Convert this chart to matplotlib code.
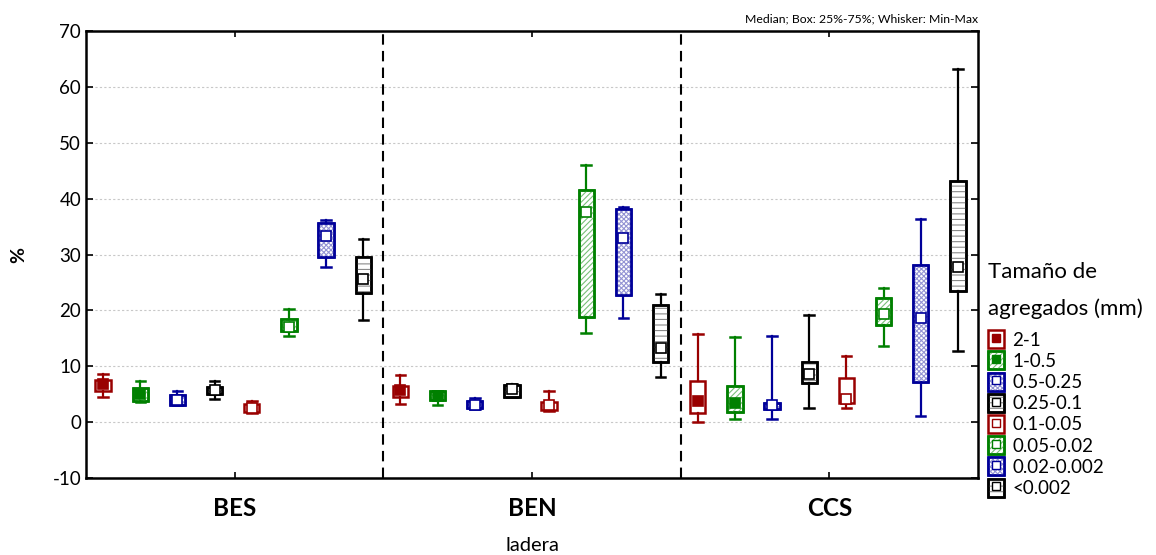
import matplotlib
matplotlib.use("Agg")
import matplotlib.pyplot as plt
from matplotlib.patches import Patch, PathPatch
from matplotlib.lines import Line2D
from matplotlib.legend_handler import HandlerTuple

plt.rcParams['font.family'] = ['Lato', 'DejaVu Sans']
plt.rcParams['axes.unicode_minus'] = False
plt.rcParams['hatch.linewidth'] = 0.8

# data (min, q1, median, q3, max)
groups = ['BES', 'BEN', 'CCS']
sizes = ['2-1', '1-0.5', '0.5-0.25', '0.25-0.1',
         '0.1-0.05', '0.05-0.02', '0.02-0.002', '<0.002']

mins = [
    [4.5, 3.6, 3.0, 4.2, 1.6, 15.5, 27.8, 18.3],
    [3.2, 3.0, 2.4, 4.5, 2.0, 16.0, 18.6, 8.1],
    [0.1, 0.5, 0.5, 2.5, 2.6, 13.7, 1.1, 12.7],
]
q1s = [
    [5.5, 3.8, 3.0, 5.0, 1.8, 16.3, 29.6, 23.1],
    [4.5, 3.9, 2.5, 4.5, 2.1, 18.9, 22.8, 10.8],
    [1.6, 1.9, 2.3, 7.0, 3.5, 17.4, 7.1, 23.5],
]
medians = [
    [6.8, 5.0, 4.0, 5.7, 2.6, 17.1, 33.3, 25.6],
    [5.8, 4.7, 3.1, 6.0, 3.0, 37.6, 33.0, 13.3],
    [3.8, 3.5, 3.0, 8.7, 4.2, 19.4, 18.6, 27.8],
]
q3s = [
    [7.5, 6.1, 4.8, 6.3, 3.2, 18.5, 35.6, 29.6],
    [6.5, 5.5, 3.8, 6.6, 3.6, 41.5, 38.1, 21.0],
    [7.4, 6.5, 3.5, 10.8, 7.9, 22.3, 28.1, 43.1],
]
maxs = [
    [8.6, 7.4, 5.5, 7.4, 3.8, 20.2, 36.2, 32.8],
    [8.4, 5.6, 4.4, 6.8, 5.6, 46.1, 38.5, 22.9],
    [15.8, 15.3, 15.4, 19.1, 11.8, 24.1, 36.3, 63.3],
]

colors = ['#990000', '#008000', '#000099', '#000000',
          '#990000', '#008000', '#000099', '#000000']
hatch_colors = [None, '#7ac07a', '#9494d4', '#8a8a8a',
                None, '#7ac07a', '#9494d4', '#8a8a8a']
hatches = [None, '//////', 'xxxxxxx', '---', None, '//////', 'xxxxxxx', '---']
median_fill = ['#990000', '#008000', 'white', 'white',
               'white', 'white', 'white', 'white']

fig = plt.figure(figsize=(11.56, 5.55), dpi=100)
ax = fig.add_axes([0.0744, 0.1387, 0.7716, 0.8053])

step = 0.125
for i, name in enumerate(sizes):
    stats = []
    pos = []
    for g in range(len(groups)):
        stats.append(dict(whislo=mins[g][i], q1=q1s[g][i], med=medians[g][i],
                          q3=q3s[g][i], whishi=maxs[g][i], mean=medians[g][i]))
        pos.append(g + 1 + (i - 3.5) * step - 0.005)
    c = colors[i]
    art = ax.bxp(stats, positions=pos, widths=0.052, patch_artist=True,
                 showmeans=True, showfliers=False, capwidths=0.032,
                 boxprops=dict(facecolor='white', edgecolor=c, linewidth=1.8),
                 whiskerprops=dict(color=c, linewidth=1.6),
                 capprops=dict(color=c, linewidth=1.8),
                 medianprops=dict(visible=False),
                 meanprops=dict(marker='s', markersize=7.5, markerfacecolor=median_fill[i],
                                markeredgecolor=c, markeredgewidth=1.2),
                 zorder=3)
    if hatches[i]:
        for b in art['boxes']:
            ax.add_patch(PathPatch(b.get_path(), facecolor='none',
                                   edgecolor=hatch_colors[i], hatch=hatches[i],
                                   linewidth=0, zorder=3.15))
            ax.add_patch(PathPatch(b.get_path(), facecolor='none', edgecolor=c,
                                   linewidth=1.8, zorder=3.18))
    for m in art['means']:
        m.set_zorder(3.3)

ax.set_xlim(0.5, 3.5)
ax.set_ylim(-10, 70)
ax.set_yticks(range(-10, 71, 10))
ax.set_xticks([1, 2, 3])
ax.set_xticklabels(groups, fontsize=17.5, fontweight='bold')
ax.tick_params(axis='x', direction='in', length=4, width=1.2, pad=14, top=True)
ax.tick_params(axis='y', direction='in', length=5, width=1.2, labelsize=13.5, right=True)
ax.grid(axis='y', color='#c8c8c8', linestyle=(0, (2, 2)), linewidth=0.8)
ax.set_axisbelow(True)
for sp in ax.spines.values():
    sp.set_linewidth(1.8)

for xd in [1.5, 2.5]:
    ax.axvline(xd, color='black', linestyle=(0, (5, 3)), linewidth=1.5, zorder=2)

ax.set_ylabel('%', fontsize=14, fontweight='bold', labelpad=18)
ax.set_xlabel('ladera', fontsize=14.5, labelpad=12)
ax.text(1.0, 1.015, 'Median; Box: 25%-75%; Whisker: Min-Max', transform=ax.transAxes,
        ha='right', va='bottom', fontsize=8.8)

handles = []
for i in range(len(sizes)):
    parts = [Patch(facecolor='white', edgecolor=colors[i], linewidth=1.8)]
    if hatches[i]:
        parts.append(Patch(facecolor='none', edgecolor=hatch_colors[i],
                           hatch=hatches[i], linewidth=0))
        parts.append(Patch(facecolor='none', edgecolor=colors[i], linewidth=1.8))
    parts.append(Line2D([], [], linestyle='none', marker='s', markersize=5.5,
                        markerfacecolor=median_fill[i], markeredgecolor=colors[i]))
    handles.append(tuple(parts))

leg = fig.legend(handles, sizes, title='Tamaño de\nagregados (mm)',
                 loc='upper left', bbox_to_anchor=(988 / 1156, 1 - 262 / 555),
                 bbox_transform=fig.transFigure, frameon=False,
                 fontsize=13.5, title_fontsize=16, handlelength=0.85, handleheight=1.1,
                 handletextpad=0.45, labelspacing=0.15, borderaxespad=0, borderpad=0,
                 handler_map={tuple: HandlerTuple(ndivide=1, pad=0)})
leg._legend_box.align = 'left'
leg._legend_box.sep = 8
leg.get_title().set_linespacing(2.0)

fig.savefig('out.png', dpi=100)
